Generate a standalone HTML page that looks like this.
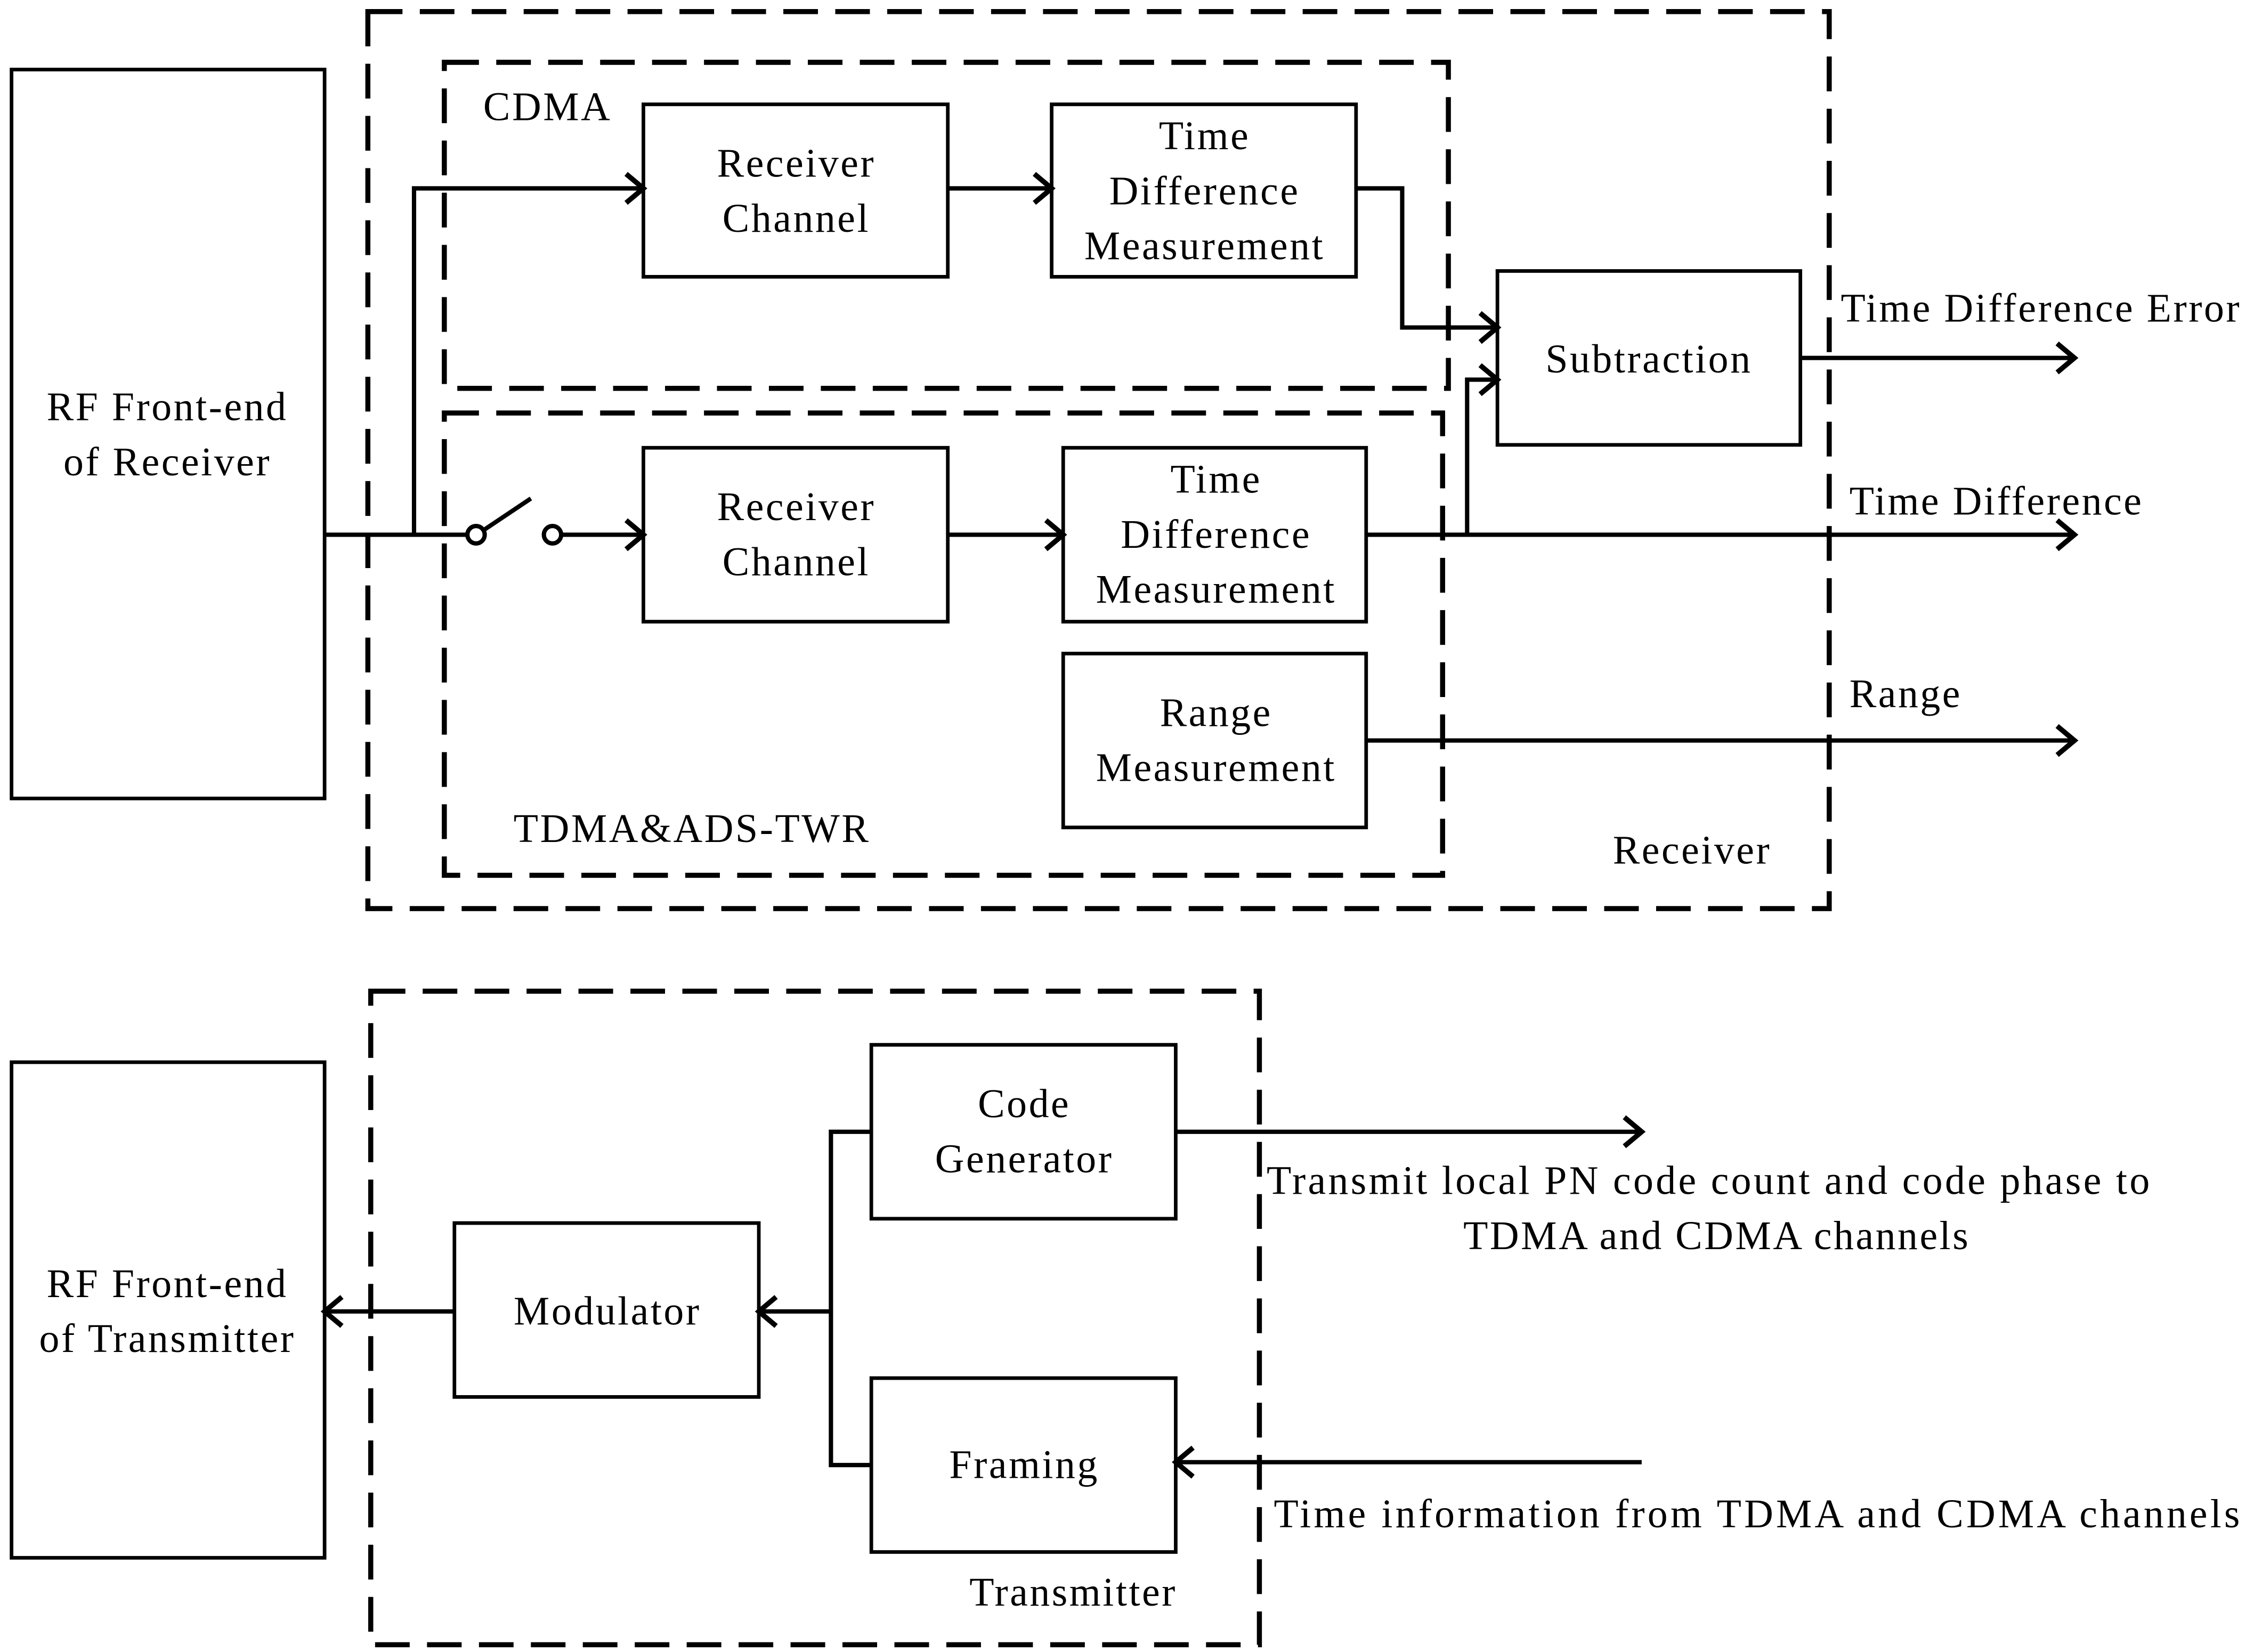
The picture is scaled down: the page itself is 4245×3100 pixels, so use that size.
<!DOCTYPE html>
<html><head><meta charset="utf-8"><style>html,body{margin:0;padding:0;background:#fff}svg{display:block}</style></head><body>
<svg width="4245" height="3100" viewBox="0 0 1568 1140" preserveAspectRatio="none" xmlns="http://www.w3.org/2000/svg" font-family="Liberation Serif, serif" font-size="28" fill="#000" letter-spacing="1.3">
<g fill="none" stroke="#000" stroke-width="3">
<rect x="8" y="48" width="217" height="503" stroke-width="2.5"/>
<rect x="8" y="733" width="217" height="342" stroke-width="2.5"/>
<rect x="446" y="72" width="211" height="119" stroke-width="2.5"/>
<rect x="729" y="72" width="211" height="119" stroke-width="2.5"/>
<rect x="1038" y="187" width="210" height="120" stroke-width="2.5"/>
<rect x="446" y="309" width="211" height="120" stroke-width="2.5"/>
<rect x="737" y="309" width="210" height="120" stroke-width="2.5"/>
<rect x="737" y="451" width="210" height="120" stroke-width="2.5"/>
<rect x="315" y="844" width="211" height="120" stroke-width="2.5"/>
<rect x="604" y="721" width="211" height="120" stroke-width="2.5"/>
<rect x="604" y="951" width="211" height="120" stroke-width="2.5"/>
<g stroke-dasharray="24,12" stroke-width="3.5">
<rect x="255" y="8" width="1013" height="619"/>
<rect x="308" y="43" width="696" height="225"/>
<rect x="308" y="285" width="692" height="319"/>
<rect x="257" y="684" width="616" height="451"/>
</g>
<polyline points="225,369 324,369"/>
<circle cx="330" cy="369" r="6"/>
<circle cx="383" cy="369" r="6"/>
<line x1="335" y1="366" x2="368" y2="344"/>
<polyline points="389,369 446,369"/>
<polyline points="287,369 287,130 446,130"/>
<polyline points="657,130 729,130"/>
<polyline points="940,130 972,130 972,226 1038,226"/>
<polyline points="947,369 1438,369"/>
<polyline points="1017,369 1017,262 1038,262"/>
<polyline points="1248,247 1438,247"/>
<polyline points="947,511 1438,511"/>
<polyline points="657,369 737,369"/>
<polyline points="604,781 576,781 576,1011 604,1011"/>
<polyline points="576,905 526,905"/>
<polyline points="315,905 225,905"/>
<polyline points="815,781 1138,781"/>
<polyline points="1138,1009 815,1009"/>
<g stroke-width="3.5">
<polyline points="434,120 446,130 434,140"/>
<polyline points="434,359 446,369 434,379"/>
<polyline points="717,120 729,130 717,140"/>
<polyline points="725,359 737,369 725,379"/>
<polyline points="1026,216 1038,226 1026,236"/>
<polyline points="1026,252 1038,262 1026,272"/>
<polyline points="1426,237 1438,247 1426,257"/>
<polyline points="1426,359 1438,369 1426,379"/>
<polyline points="1426,501 1438,511 1426,521"/>
<polyline points="1126,771 1138,781 1126,791"/>
<polyline points="827,999 815,1009 827,1019"/>
<polyline points="538,895 526,905 538,915"/>
<polyline points="237,895 225,905 237,915"/>
</g>
</g>
<g text-anchor="middle">
<text x="116" y="290">RF Front-end</text><text x="116" y="328">of Receiver</text>
<text x="116" y="895">RF Front-end</text><text x="116" y="933">of Transmitter</text>
<text x="552" y="122">Receiver</text><text x="552" y="160">Channel</text>
<text x="835" y="103">Time</text><text x="835" y="141">Difference</text><text x="835" y="179">Measurement</text>
<text x="1143" y="257">Subtraction</text>
<text x="552" y="359">Receiver</text><text x="552" y="397">Channel</text>
<text x="843" y="340">Time</text><text x="843" y="378">Difference</text><text x="843" y="416">Measurement</text>
<text x="843" y="501">Range</text><text x="843" y="539">Measurement</text>
<text x="421" y="914">Modulator</text>
<text x="710" y="771">Code</text><text x="710" y="809">Generator</text>
<text x="710" y="1020">Framing</text>
<text x="1190" y="862">TDMA and CDMA channels</text>
</g>
<text x="335" y="83">CDMA</text>
<text x="356" y="581">TDMA&amp;ADS-TWR</text>
<text x="1118" y="596">Receiver</text>
<text x="1276" y="222">Time Difference Error</text>
<text x="1282" y="355">Time Difference</text>
<text x="1282" y="488">Range</text>
<text x="878" y="824" letter-spacing="1.6">Transmit local PN code count  and code phase to</text>
<text x="883" y="1054" letter-spacing="1.9">Time information from TDMA and CDMA channels</text>
<text x="672" y="1108">Transmitter</text>
</svg>
</body></html>
